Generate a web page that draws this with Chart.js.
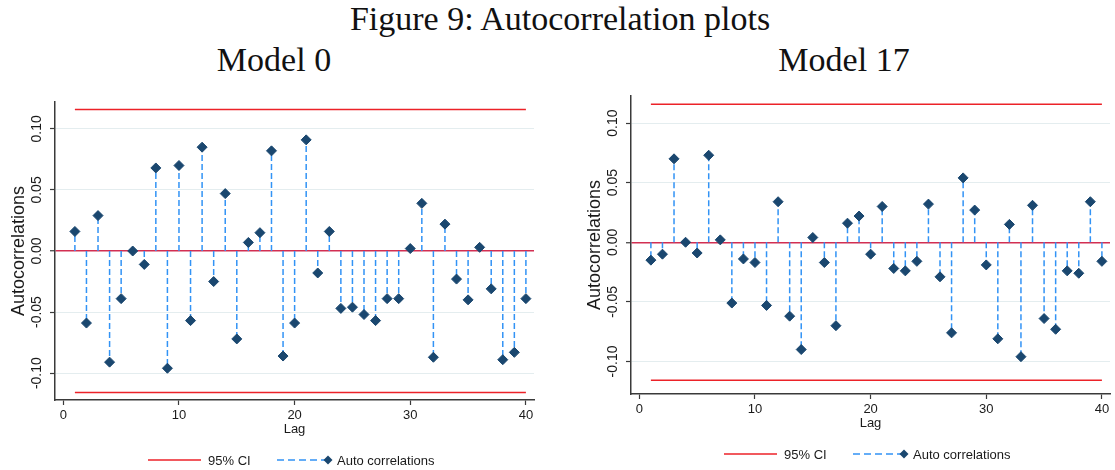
<!DOCTYPE html>
<html>
<head>
<meta charset="utf-8">
<script src="https://cdn.jsdelivr.net/npm/chart.js@4.4.1/dist/chart.umd.min.js"></script>
<style>
  html, body { margin: 0; padding: 0; background: #fff; overflow: hidden; }
  #page { position: relative; width: 1115px; height: 470px; }
  .cap {
    position: absolute; transform: translateX(-50%);
    font-family: "Liberation Serif", serif; font-size: 34px; line-height: 1;
    color: #111; white-space: nowrap;
  }
  canvas { position: absolute; }
</style>
</head>
<body>
<div id="page">
  <div class="cap" style="left:560px; top:2px;">Figure 9: Autocorrelation plots</div>
  <div class="cap" style="left:274px; top:43px;">Model 0</div>
  <div class="cap" style="left:844px; top:43px;">Model 17</div>
  <canvas id="acf0" width="540" height="470" style="left:0; top:0;"></canvas>
  <canvas id="acf17" width="540" height="470" style="left:576px; top:-6px;"></canvas>
</div>
<script>
// lags 1..40
const lags = [1, 2, 3, 4, 5, 6, 7, 8, 9, 10, 11, 12, 13, 14, 15, 16, 17, 18, 19, 20,
              21, 22, 23, 24, 25, 26, 27, 28, 29, 30, 31, 32, 33, 34, 35, 36, 37, 38, 39, 40];

const acfModel0 = [0.016, -0.059, 0.029, -0.091, -0.039, 0.000, -0.011, 0.068, -0.096, 0.070,
                   -0.057, 0.085, -0.025, 0.047, -0.072, 0.007, 0.015, 0.082, -0.086, -0.059,
                   0.091, -0.018, 0.016, -0.047, -0.046, -0.052, -0.057, -0.039, -0.039, 0.002,
                   0.039, -0.087, 0.022, -0.023, -0.040, 0.003, -0.031, -0.089, -0.083, -0.039];

const acfModel17 = [-0.015, -0.010, 0.070, 0.000, -0.009, 0.073, 0.002, -0.051, -0.014, -0.017,
                    -0.053, 0.034, -0.062, -0.090, 0.004, -0.017, -0.070, 0.016, 0.022, -0.010,
                    0.030, -0.022, -0.024, -0.016, 0.032, -0.029, -0.076, 0.054, 0.027, -0.019,
                    -0.081, 0.015, -0.096, 0.031, -0.064, -0.073, -0.024, -0.026, 0.034, -0.016];

// 95% band is drawn from first to last lag
const ciLags = [1, 40];
const ciLimit = 0.1158;

const xTicks = [0, 10, 20, 30, 40];
const yTicks = [-0.10, -0.05, 0.00, 0.05, 0.10];

const family = '"Liberation Sans", Arial, sans-serif';
const textColor = '#1a1a1a';
const axisColor = '#3a3a3a';
const gridColor = '#e4edef';
const zeroColor = '#d22f52';
const ciColor = '#ec2228';
const stemColor = '#3293f5';
const markerColor = '#1a476f';

Chart.defaults.font.family = family;

// dashed stems from zero up/down to each autocorrelation
const stemPlugin = {
  id: 'stems',
  beforeDatasetsDraw(chart) {
    const meta = chart.getDatasetMeta(2);
    const y0 = chart.scales.y.getPixelForValue(0);
    const ctx = chart.ctx;
    ctx.save();
    ctx.strokeStyle = stemColor;
    ctx.lineWidth = 1.5;
    ctx.setLineDash([6, 3]);
    meta.data.forEach(pt => {
      ctx.beginPath();
      ctx.moveTo(pt.x, y0);
      ctx.lineTo(pt.x, pt.y);
      ctx.stroke();
    });
    ctx.restore();
  }
};

// legend row under the x axis
const keyPlugin = {
  id: 'key',
  afterDraw(chart) {
    const ctx = chart.ctx;
    const y = 460;
    ctx.save();
    ctx.lineWidth = 1.6;
    ctx.strokeStyle = ciColor;
    ctx.beginPath();
    ctx.moveTo(148, y);
    ctx.lineTo(201, y);
    ctx.stroke();

    ctx.strokeStyle = stemColor;
    ctx.lineWidth = 1.5;
    ctx.setLineDash([7, 4]);
    ctx.beginPath();
    ctx.moveTo(277, y);
    ctx.lineTo(325, y);
    ctx.stroke();
    ctx.setLineDash([]);

    ctx.fillStyle = markerColor;
    ctx.beginPath();
    ctx.moveTo(328, y - 4.5);
    ctx.lineTo(332.5, y);
    ctx.lineTo(328, y + 4.5);
    ctx.lineTo(323.5, y);
    ctx.closePath();
    ctx.fill();

    ctx.fillStyle = textColor;
    ctx.font = '13px ' + family;
    ctx.textBaseline = 'middle';
    ctx.fillText('95% CI', 208, y + 1);
    ctx.fillText('Auto correlations', 337, y + 1);
    ctx.restore();
  }
};

function acfChart(id, values, yMin, yMax) {
  return new Chart(document.getElementById(id), {
    type: 'scatter',
    data: {
      datasets: [
        {
          label: '95% CI',
          data: ciLags.map(l => ({ x: l, y: ciLimit })),
          showLine: true, borderColor: ciColor, borderWidth: 1.6, pointRadius: 0
        },
        {
          label: '95% CI lower',
          data: ciLags.map(l => ({ x: l, y: -ciLimit })),
          showLine: true, borderColor: ciColor, borderWidth: 1.6, pointRadius: 0
        },
        {
          label: 'Auto correlations',
          data: lags.map((l, i) => ({ x: l, y: values[i] })),
          showLine: false, pointStyle: 'rectRot', pointRadius: 5,
          backgroundColor: markerColor, borderColor: markerColor, borderWidth: 1
        }
      ]
    },
    options: {
      responsive: false,
      animation: false,
      layout: { padding: { top: 102, right: 5, left: 0, bottom: 0 } },
      plugins: { legend: { display: false }, tooltip: { enabled: false } },
      scales: {
        x: {
          type: 'linear', min: -0.72, max: 40.7,
          afterBuildTicks: s => { s.ticks = xTicks.map(v => ({ value: v })); },
          afterFit: s => { s.height = 70; },
          grid: { drawOnChartArea: false, tickLength: 5, tickColor: axisColor, tickWidth: 1.2 },
          border: { color: axisColor, width: 1.5 },
          ticks: { font: { size: 13 }, color: textColor, padding: 3, maxRotation: 0 },
          title: {
            display: true, text: 'Lag', font: { size: 13 }, color: textColor,
            padding: { top: 0, bottom: 33 }
          }
        },
        y: {
          min: yMin, max: yMax,
          afterBuildTicks: s => { s.ticks = yTicks.map(v => ({ value: v })); },
          afterFit: s => { s.width = 55; },
          grid: {
            color: c => (c.tick && c.tick.value === 0 ? zeroColor : gridColor),
            lineWidth: c => (c.tick && c.tick.value === 0 ? 1.5 : 1),
            tickColor: axisColor, tickLength: 5, tickWidth: 1.2
          },
          border: { color: axisColor, width: 1.5 },
          ticks: {
            minRotation: 90, maxRotation: 90, crossAlign: 'center', padding: -3,
            font: { size: 14 }, color: textColor,
            callback: v => v.toFixed(2)
          },
          title: {
            display: true, text: 'Autocorrelations', font: { size: 18 }, color: textColor,
            padding: { top: 8, bottom: 0 }
          }
        }
      }
    },
    plugins: [stemPlugin, keyPlugin]
  });
}

acfChart('acf0', acfModel0, -0.122, 0.122);
acfChart('acf17', acfModel17, -0.1273, 0.1227);
</script>
</body>
</html>
